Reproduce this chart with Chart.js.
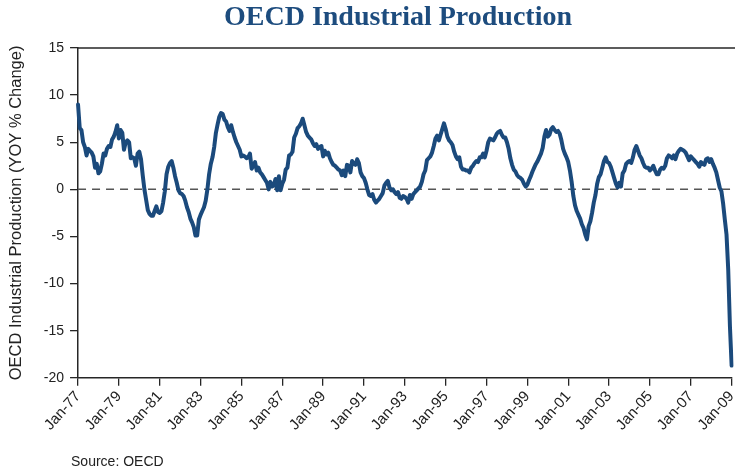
<!DOCTYPE html>
<html>
<head>
<meta charset="utf-8">
<script src="https://cdn.jsdelivr.net/npm/chart.js@4.4.0/dist/chart.umd.min.js"></script>
<style>
  html, body { margin: 0; padding: 0; background: #fff; overflow: hidden; }
  #wrap { width: 735px; height: 474px; overflow: hidden; }
  canvas { display: block; }
</style>
</head>
<body>
<div id="wrap"><canvas id="ipChart" width="747" height="474"></canvas></div>
<script>
const monthNames = ['Jan', 'Feb', 'Mar', 'Apr', 'May', 'Jun', 'Jul', 'Aug', 'Sep', 'Oct', 'Nov', 'Dec'];
const firstYear = 1977;

// OECD industrial production, YOY % change, monthly from Jan-77 to Jan-09
const yoyChange = [
  9.0, 6.5, 6.3, 5.0, 4.5, 3.6, 4.3, 4.1, 3.9, 3.5, 2.3, 2.7,        // 1977
  1.7, 1.9, 2.7, 3.8, 3.6, 4.3, 4.6, 4.5, 5.3, 5.6, 6.1, 6.8,        // 1978
  5.4, 6.3, 6.0, 4.2, 5.0, 5.2, 5.0, 3.3, 3.4, 3.3, 2.5, 3.8,        // 1979
  4.0, 3.2, 1.5, 0.0, -1.1, -2.2, -2.6, -2.8, -2.8, -2.3, -1.8, -2.4, // 1980
  -2.5, -2.3, -1.4, -0.2, 1.6, 2.4, 2.8, 3.0, 2.3, 1.4, 0.7, -0.1,   // 1981
  -0.4, -0.5, -0.7, -1.2, -1.9, -2.4, -3.1, -3.5, -4.0, -4.9, -4.9, -3.2, // 1982
  -2.7, -2.3, -1.9, -1.2, 0.0, 1.6, 2.7, 3.4, 4.5, 6.0, 6.9, 7.7,    // 1983
  8.1, 8.0, 7.4, 7.2, 6.6, 6.2, 6.8, 6.1, 5.5, 5.0, 4.6, 4.2,        // 1984
  3.5, 3.6, 3.5, 3.3, 3.4, 3.8, 2.2, 2.5, 2.9, 2.0, 2.3, 1.8,        // 1985
  1.6, 1.3, 1.0, 0.7, 0.0, 0.8, 0.3, 0.4, 1.1, -0.1, 1.4, -0.1,      // 1986
  0.6, 1.0, 2.1, 2.3, 3.6, 3.7, 4.0, 5.5, 5.9, 6.5, 6.7, 7.0,        // 1987
  7.5, 6.8, 6.1, 5.7, 5.5, 5.3, 4.9, 4.6, 4.8, 4.3, 4.5, 4.6,        // 1988
  3.5, 4.1, 3.7, 3.9, 3.3, 2.9, 2.6, 2.5, 2.3, 2.1, 2.0, 1.5,        // 1989
  2.0, 1.4, 2.6, 2.5, 1.8, 3.0, 2.7, 2.6, 3.2, 2.8, 1.8, 1.4,        // 1990
  1.2, 0.7, 0.0, -0.6, -0.7, -0.5, -1.1, -1.4, -1.2, -1.0, -0.7, -0.4, // 1991
  0.4, 0.7, 0.9, 0.2, -0.1, 0.0, -0.3, -0.5, -0.3, -0.9, -1.0, -0.7, // 1992
  -0.8, -1.0, -1.4, -0.6, -1.0, -0.5, -0.3, -0.1, 0.1, 0.3, 0.8, 1.6, // 1993
  2.0, 3.1, 3.3, 3.5, 3.9, 4.6, 5.4, 5.7, 5.2, 5.8, 6.4, 7.0,        // 1994
  6.4, 5.6, 5.2, 5.0, 4.7, 4.0, 3.5, 3.2, 3.4, 2.4, 2.1, 2.1,        // 1995
  2.0, 2.0, 1.8, 2.3, 2.5, 2.8, 3.0, 2.9, 3.4, 3.4, 3.8, 3.4,        // 1996
  4.1, 5.0, 5.4, 5.3, 5.2, 5.5, 5.9, 6.1, 6.2, 5.8, 5.5, 5.5,        // 1997
  5.0, 4.3, 3.3, 2.6, 2.1, 1.9, 1.5, 1.3, 1.2, 1.0, 0.6, 0.3,        // 1998
  0.5, 1.0, 1.4, 1.9, 2.3, 2.7, 3.0, 3.4, 3.8, 4.4, 5.6, 6.3,        // 1999
  5.6, 5.8, 6.4, 6.6, 6.3, 6.1, 6.2, 5.9, 5.2, 4.3, 3.8, 3.4,        // 2000
  2.9, 2.0, 0.8, -0.7, -1.7, -2.3, -2.7, -3.1, -3.7, -4.1, -4.8, -5.3, // 2001
  -3.9, -3.4, -2.5, -1.4, -0.6, 0.6, 1.3, 1.6, 2.3, 3.0, 3.4, 2.9,   // 2002
  2.8, 2.4, 1.8, 1.2, 0.6, 0.2, 0.7, 0.3, 1.7, 2.0, 2.7, 2.9,        // 2003
  3.0, 2.8, 3.4, 4.2, 4.6, 4.1, 3.6, 3.3, 2.8, 2.4, 2.3, 2.3,        // 2004
  2.0, 2.2, 2.5, 2.0, 1.6, 1.6, 2.1, 2.3, 2.2, 2.5, 3.3, 3.6,        // 2005
  3.5, 3.3, 3.6, 3.2, 3.8, 4.1, 4.3, 4.2, 4.1, 3.9, 3.5, 3.1,        // 2006
  3.5, 3.3, 3.1, 2.9, 2.7, 2.4, 2.9, 2.7, 2.6, 3.2, 3.3, 2.9,        // 2007
  3.2, 2.7, 2.3, 1.8, 1.0, 0.2, -0.2, -1.5, -3.2, -4.8, -8.5, -14.5, // 2008
  -18.7                                                               // Jan-09
];

const yTickValues = [-20, -15, -10, -5, 0, 5, 10, 15];

const labels = yoyChange.map((v, i) =>
  monthNames[i % 12] + '-' + String((firstYear + Math.floor(i / 12)) % 100).padStart(2, '0'));

const axisColor = '#262626';
const sansFont = "'Liberation Sans', Arial, Helvetica, sans-serif";

// title, zero line (dashed), top frame line and source note
const chartExtras = {
  id: 'chartExtras',
  beforeDatasetsDraw(chart) {
    const { ctx, chartArea, scales } = chart;
    const y0 = scales.y.getPixelForValue(0);
    ctx.save();
    ctx.strokeStyle = '#555555';
    ctx.lineWidth = 1.5;
    ctx.setLineDash([8, 6]);
    ctx.beginPath();
    ctx.moveTo(chartArea.left, y0);
    ctx.lineTo(chartArea.right, y0);
    ctx.stroke();
    ctx.setLineDash([]);
    ctx.strokeStyle = axisColor;
    ctx.beginPath();
    ctx.moveTo(chartArea.left, chartArea.top);
    ctx.lineTo(chart.width, chartArea.top);
    ctx.stroke();
    ctx.restore();
  },
  afterDraw(chart) {
    const { ctx, chartArea } = chart;
    ctx.save();
    ctx.fillStyle = '#1d4c7e';
    ctx.font = "bold 28px 'Liberation Serif', 'Times New Roman', serif";
    ctx.textAlign = 'center';
    ctx.textBaseline = 'middle';
    ctx.fillText('OECD Industrial Production', 398, 18);
    ctx.fillStyle = '#222222';
    ctx.font = '14px ' + sansFont;
    ctx.textAlign = 'left';
    ctx.fillText('Source: OECD', chartArea.left - 7, chart.height - 12);
    ctx.restore();
  }
};

const ctx = document.getElementById('ipChart').getContext('2d');
const ipChart = new Chart(ctx, {
  type: 'line',
  data: {
    labels: labels,
    datasets: [{
      label: 'OECD Industrial Production',
      data: yoyChange,
      borderColor: '#1b4a7c',
      borderWidth: 4,
      borderJoinStyle: 'round',
      borderCapStyle: 'round',
      pointRadius: 0,
      tension: 0,
      fill: false
    }]
  },
  plugins: [chartExtras],
  options: {
    responsive: false,
    animation: false,
    layout: { padding: { left: 7, right: 0, top: 48, bottom: 38 } },
    plugins: {
      legend: { display: false },
      tooltip: { enabled: false },
      title: { display: false }
    },
    scales: {
      x: {
        type: 'category',
        offset: false,
        grid: { display: true, drawOnChartArea: false, drawTicks: true, tickLength: 8, color: axisColor, lineWidth: 1.3 },
        border: { display: true, color: axisColor, width: 1.5 },
        ticks: {
          autoSkip: false,
          minRotation: 48,
          maxRotation: 48,
          padding: 2,
          color: '#222222',
          font: { family: sansFont, size: 15 },
          callback: function (value, index) {
            return index % 24 === 0 ? labels[index] : null;
          }
        }
      },
      y: {
        min: -20,
        max: 15,
        afterBuildTicks: (axis) => { axis.ticks = yTickValues.map(v => ({ value: v })); },
        grid: { display: true, drawOnChartArea: false, drawTicks: true, tickLength: 8, color: axisColor, lineWidth: 1.3 },
        border: { display: true, color: axisColor, width: 1.5 },
        ticks: {
          padding: 6,
          color: '#222222',
          font: { family: sansFont, size: 14 }
        },
        title: {
          display: true,
          text: 'OECD Industrial Production (YOY % Change)',
          color: '#222222',
          font: { family: sansFont, size: 16.5 },
          padding: { top: 0, bottom: 11 }
        }
      }
    }
  }
});
</script>
</body>
</html>
